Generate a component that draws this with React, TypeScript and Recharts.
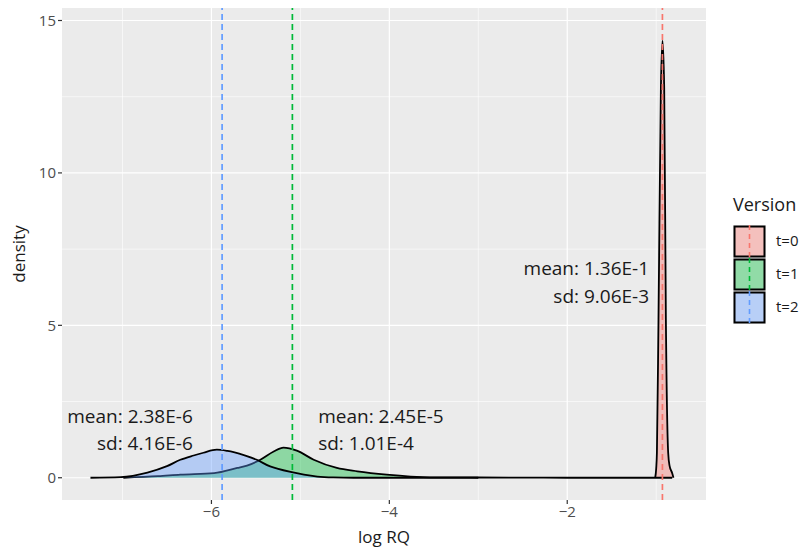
import React from "react";
import {
  ComposedChart,
  Area,
  XAxis,
  YAxis,
  CartesianGrid,
  ReferenceLine,
  ReferenceDot,
} from "recharts";

// density curves (log RQ, density)
const t0X = [-1.011, -1.0, -0.992, -0.974, -0.947, -0.929, -0.91, -0.891, -0.865, -0.85, -0.82, -0.806];
const t0Y = [0, 0.3, 0.81, 5.2, 12.8, 14.34, 12.8, 5.2, 0.81, 0.4, 0.15, 0];

const t1X = [-6.99, -6.6, -6.35, -5.97, -5.71, -5.6, -5.45, -5.3, -5.19, -5.04, -4.85, -4.59, -4.36, -4.03, -3.76, -3.46, -3.0, -2.5, -2.0, -1.5, -0.82];
const t1Y = [0, 0.05, 0.1, 0.15, 0.32, 0.4, 0.59, 0.86, 0.99, 0.89, 0.59, 0.32, 0.21, 0.1, 0.04, 0.015, 0.008, 0.004, 0, 0, 0];

const t2X = [-7.36, -7.02, -6.72, -6.5, -6.35, -6.2, -6.09, -5.94, -5.82, -5.75, -5.61, -5.49, -5.34, -5.26, -5.11, -4.96, -4.81, -4.63, -4.4, -3.6, -3.0];
const t2Y = [0, 0.02, 0.17, 0.38, 0.59, 0.73, 0.82, 0.92, 0.88, 0.84, 0.72, 0.59, 0.37, 0.3, 0.19, 0.1, 0.04, 0.01, 0, 0, 0];

const means = [-0.93, -5.09, -5.88];
const versions = ["t=0", "t=1", "t=2"];
const colors = ["#F8766D", "#00BA38", "#619CFF"];
const keys = ["t0", "t1", "t2"];

const xTicks = [-6, -4, -2];
const xMinor = [-7, -5, -3, -1];
const yTicks = [0, 5, 10, 15];
const yMinor = [2.5, 7.5, 12.5];

const notes = [
  { x: -6.21, y: 2.03, text: "mean: 2.38E-6", anchor: "end" },
  { x: -6.21, y: 1.15, text: "sd: 4.16E-6", anchor: "end" },
  { x: -4.8, y: 2.03, text: "mean: 2.45E-5", anchor: "start" },
  { x: -4.8, y: 1.15, text: "sd: 1.01E-4", anchor: "start" },
  { x: -1.08, y: 6.89, text: "mean: 1.36E-1", anchor: "end" },
  { x: -1.08, y: 5.97, text: "sd: 9.06E-3", anchor: "end" },
];

const series = [
  { xs: t0X, ys: t0Y },
  { xs: t1X, ys: t1Y },
  { xs: t2X, ys: t2Y },
];

const rowMap = new Map<number, any>();
series.forEach((s, i) => {
  s.xs.forEach((x, j) => {
    const row = rowMap.get(x) || { x };
    row[keys[i]] = s.ys[j];
    rowMap.set(x, row);
  });
});
const data = Array.from(rowMap.values()).sort((a, b) => a.x - b.x);

const FONT = "'Open Sans', sans-serif";
const fmt = (v: number) => (v < 0 ? "\u2212" + Math.abs(v) : String(v));

export default function App() {
  return (
    <div style={{ position: "absolute", left: 0, top: 0, width: 803, height: 549, background: "#fff", fontFamily: FONT }}>
      <ComposedChart
        width={803}
        height={549}
        data={data}
        margin={{ top: 8, right: 97, left: 0, bottom: 0 }}
      >
        <CartesianGrid
          fill="#EBEBEB"
          stroke="#FFFFFF"
          strokeWidth={0.6}
          horizontalValues={yMinor}
          verticalValues={xMinor}
        />
        <CartesianGrid
          stroke="#FFFFFF"
          strokeWidth={1.2}
          horizontalValues={yTicks}
          verticalValues={xTicks}
        />
        <XAxis
          dataKey="x"
          type="number"
          domain={[-7.68, -0.44]}
          ticks={xTicks}
          allowDataOverflow
          axisLine={false}
          tickLine={{ stroke: "#333333", strokeWidth: 1.2 }}
          tickSize={4}
          tickFormatter={fmt}
          tick={{ fill: "#4D4D4D", fontSize: 15, fontFamily: FONT }}
          height={49}
          label={{ value: "log RQ", position: "insideBottom", offset: 6, fill: "#1A1A1A", fontSize: 17, fontFamily: FONT }}
        />
        <YAxis
          type="number"
          domain={[-0.73, 15.41]}
          ticks={yTicks}
          allowDataOverflow
          axisLine={false}
          tickLine={{ stroke: "#333333", strokeWidth: 1.2 }}
          tickSize={4}
          tick={{ fill: "#4D4D4D", fontSize: 15, fontFamily: FONT }}
          width={62}
        />
        {keys.map((k, i) => (
          <Area
            key={k}
            dataKey={k}
            type="monotone"
            connectNulls
            baseValue={0}
            stroke="#000000"
            strokeWidth={1.8}
            fill={colors[i]}
            fillOpacity={0.4}
            dot={false}
            activeDot={false}
            isAnimationActive={false}
          />
        ))}
        {means.map((m, i) => (
          <ReferenceLine
            key={"m" + i}
            x={m}
            stroke={colors[i]}
            strokeWidth={1.7}
            strokeDasharray="6 4"
          />
        ))}
        {notes.map((n, i) => (
          <ReferenceDot
            key={"n" + i}
            x={n.x}
            y={n.y}
            r={0}
            stroke="none"
            fill="none"
            label={(p: any) => (
              <text
                x={p.viewBox.x}
                y={p.viewBox.y}
                textAnchor={n.anchor}
                dominantBaseline="central"
                fill="#1A1A1A"
                fontSize={19}
                fontFamily={FONT}
              >
                {n.text}
              </text>
            )}
          />
        ))}
      </ComposedChart>
      <div
        style={{
          position: "absolute",
          left: 6,
          top: 254,
          transform: "translate(-50%, -50%) rotate(-90deg)",
          transformOrigin: "center",
          marginLeft: 12,
          fontSize: 17,
          color: "#1A1A1A",
        }}
      >
        density
      </div>
      <div style={{ position: "absolute", left: 733, top: 192, fontSize: 18, color: "#1A1A1A" }}>Version</div>
      {versions.map((v, i) => (
        <div key={v}>
          <svg
            style={{ position: "absolute", left: 733, top: 225 + i * 33 }}
            width={33}
            height={33}
          >
            <rect x={0} y={0} width={33} height={33} fill="#F2F2F2" />
            <rect x={1.5} y={1.5} width={30} height={30} fill={colors[i]} fillOpacity={0.4} stroke="#000" strokeWidth={2} />
            <line x1={16.5} y1={0} x2={16.5} y2={33} stroke={colors[i]} strokeWidth={1.6} strokeDasharray="5 4" />
          </svg>
          <div style={{ position: "absolute", left: 776, top: 230 + i * 33, fontSize: 15, color: "#1A1A1A", lineHeight: "20px" }}>
            {v}
          </div>
        </div>
      ))}
    </div>
  );
}
